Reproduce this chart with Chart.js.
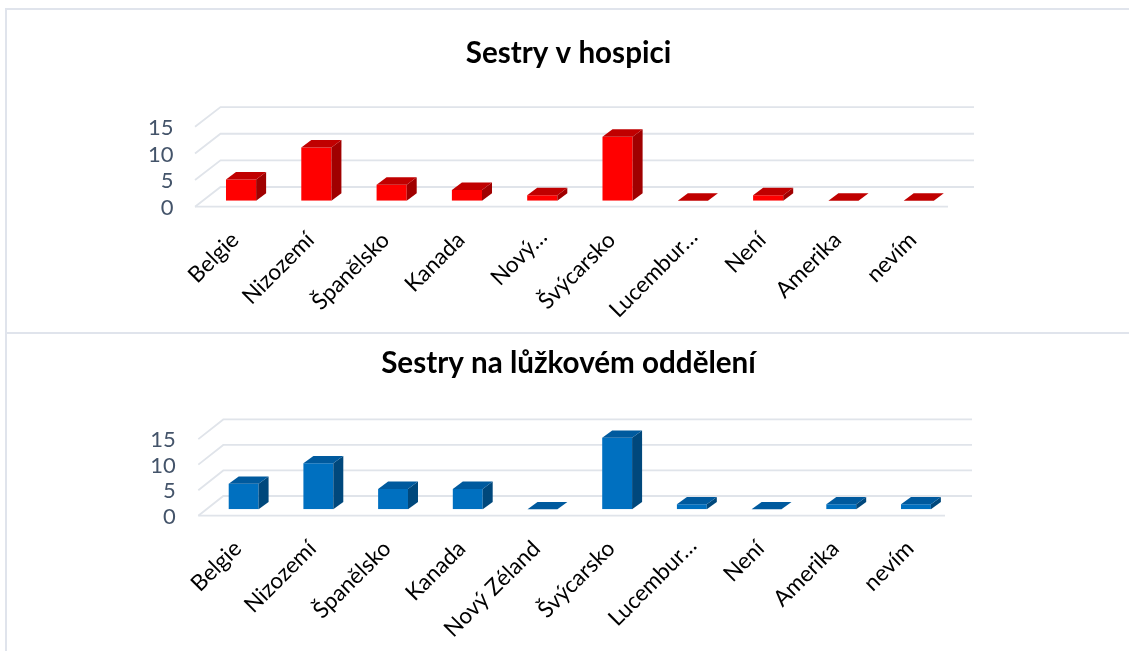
<!DOCTYPE html>
<html lang="cs"><head><meta charset="utf-8"><title>Sestry</title>
<script src="https://cdn.jsdelivr.net/npm/chart.js@4"></script>
<style>
html,body{margin:0;padding:0;background:#fff;overflow:hidden;width:1129px;height:651px}
canvas{position:absolute;left:8px}
#c1{top:0}#c2{top:334px}
.f{position:absolute;background:#e0e4ec}
</style></head><body>
<div class="f" style="left:5px;top:8px;width:2px;height:643px"></div>
<div class="f" style="left:5px;top:8px;width:1124px;height:2px"></div>
<div class="f" style="left:5px;top:332px;width:1124px;height:2px"></div>
<canvas id="c1" width="1121" height="332"></canvas>
<canvas id="c2" width="1121" height="317"></canvas>
<script>
const titleHospic = 'Sestry v hospici';
const titleLuzko = 'Sestry na lůžkovém oddělení';
const categoriesHospic = ['Belgie','Nizozemí','Španělsko','Kanada','Nový…','Švýcarsko','Lucembur…','Není','Amerika','nevím'];
const categoriesLuzko = ['Belgie','Nizozemí','Španělsko','Kanada','Nový Zéland','Švýcarsko','Lucembur…','Není','Amerika','nevím'];
const valuesHospic = [4,10,3,2,1,12,0,1,0,0];
const valuesLuzko = [5,9,4,4,0,14,1,0,1,1];
const yTicks = [0,5,10,15];
const FONT = 'Lato';

const threeD = {
  id:'threeD',
  beforeDraw(chart){
    // truncated labels sit a little further along their baseline in the reference
    chart.scales.x.getLabelItems().forEach(it=>{
      if(it.label.endsWith('…')&&!it._moved){
        it._moved=true;
        it.options.translation[0]+=7;
        it.options.translation[1]-=3;
      }
    });
  },
  beforeDatasetsDraw(chart,args,o){
    const {ctx,scales:{y}} = chart;
    ctx.save();
    ctx.strokeStyle='#e0e4ea';ctx.lineWidth=1.8;
    yTicks.forEach(v=>{
      const p=y.getPixelForValue(v);
      ctx.beginPath();
      ctx.moveTo(o.frontLeft,p+o.frontDy);
      ctx.lineTo(o.backLeft,p+o.backDy);
      ctx.lineTo(o.backRight,p+o.backDy);
      ctx.stroke();
    });
    const p0=y.getPixelForValue(0);
    ctx.beginPath();ctx.moveTo(o.frontLeft,p0+o.frontDy);ctx.lineTo(o.frontRight,p0+o.frontDy);ctx.stroke();
    ctx.restore();
  },
  afterDatasetsDraw(chart,args,o){
    const {ctx}=chart;
    const bars=chart.getDatasetMeta(0).data;
    ctx.save();
    bars.forEach(b=>{
      const l=b.x-b.width/2,r=b.x+b.width/2,t=b.y,bt=b.base,dx=o.dx,dy=o.dy;
      if(bt-t>0.5){
        ctx.fillStyle=o.side;ctx.beginPath();
        ctx.moveTo(r,t);ctx.lineTo(r+dx,t-dy);ctx.lineTo(r+dx,bt-dy);ctx.lineTo(r,bt);ctx.closePath();ctx.fill();
      }
      ctx.fillStyle=o.top;ctx.beginPath();
      ctx.moveTo(l,t);ctx.lineTo(l+dx,t-dy);ctx.lineTo(r+dx,t-dy);ctx.lineTo(r,t);ctx.closePath();ctx.fill();
    });
    ctx.restore();
  }
};

function make(id,title,cats,vals,g){
  return new Chart(document.getElementById(id),{
    type:'bar',
    data:{labels:cats,datasets:[{data:vals,backgroundColor:g.front,barPercentage:0.4,categoryPercentage:1,borderWidth:0}]},
    plugins:[threeD],
    options:{
      responsive:false,animation:false,
      layout:{padding:0},
      plugins:{
        legend:{display:false},tooltip:{enabled:false},
        title:{display:true,text:title,color:'#000',font:{family:FONT,size:29.6,weight:'bold',lineHeight:1.2},padding:{top:g.titleTop,bottom:g.titleBottom}},
        threeD:g
      },
      scales:{
        x:{grid:{display:false,drawTicks:false},border:{display:false},
           ticks:{autoSkip:false,minRotation:45,maxRotation:45,color:'#000',padding:g.xPad,labelOffset:-6,font:{family:FONT,size:22.5}},
           afterFit(s){s.height=g.xHeight;}},
        y:{min:0,max:15,grid:{display:false,drawTicks:false},border:{display:false},
           ticks:{autoSkip:false,stepSize:5,color:'#44546a',padding:g.yPad,labelOffset:g.frontDy+1,font:{family:FONT,size:22}},
           afterFit(s){s.width=g.yWidth;}},
        spacer:{position:'right',min:0,max:15,grid:{display:false,drawTicks:false},border:{display:false},
           ticks:{display:false},afterFit(s){s.width=g.padRight;}}
      }
    }
  });
}

make('c1',titleHospic,categoriesHospic,valuesHospic,{
  front:'#ff0000',side:'#a00000',top:'#c00000',dx:10,dy:7.5,
  padRight:172.6,titleTop:35.3,titleBottom:50,xPad:26,xHeight:131.3,yWidth:195.4,yPad:30,
  frontDy:6,backDy:-13.7,frontLeft:187,backLeft:212.5,backRight:966,frontRight:940
});
make('c2',titleLuzko,categoriesLuzko,valuesLuzko,{
  front:'#0070c0',side:'#00487c',top:'#005a9e',dx:10,dy:7.3,
  padRight:175.7,titleTop:11.3,titleBottom:51.9,xPad:26,xHeight:141.7,yWidth:198.3,yPad:30.6,
  frontDy:6.4,backDy:-13.3,frontLeft:190.3,backLeft:215.3,backRight:964,frontRight:937
});
</script>
</body></html>
